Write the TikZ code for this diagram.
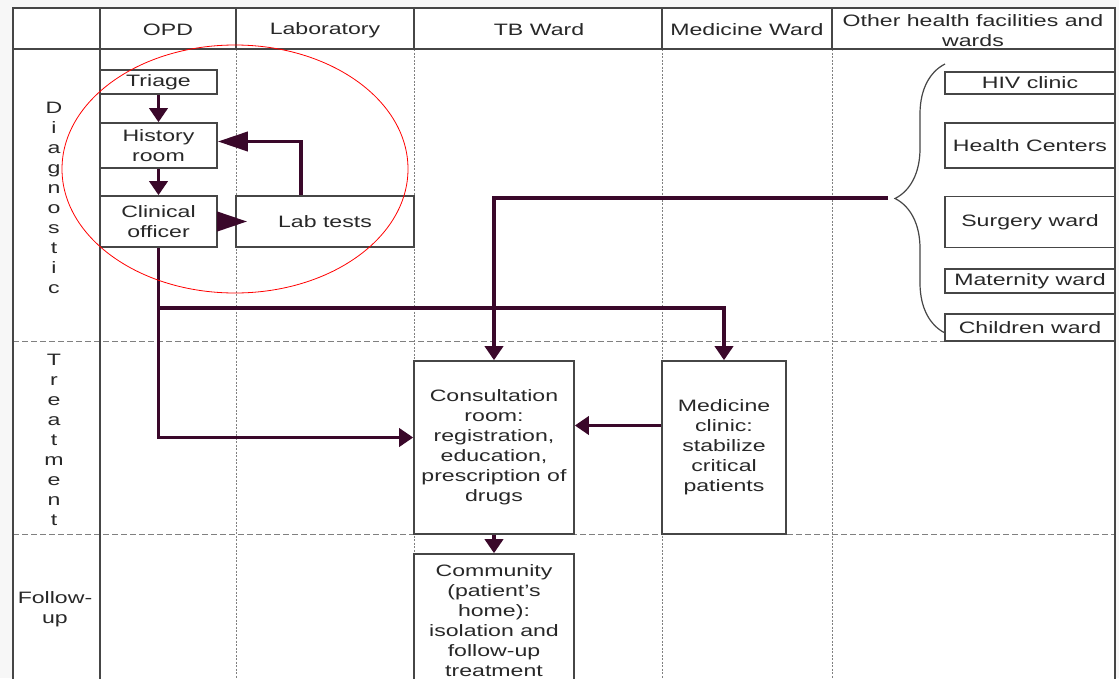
\documentclass[tikz,border=0pt]{standalone}
\usepackage{fontspec}
\setmainfont{Liberation Sans}[FakeStretch=1.4]
\usetikzlibrary{arrows.meta, decorations.pathreplacing}
\definecolor{flowcol}{RGB}{58,8,42}
\definecolor{linegray}{RGB}{70,70,70}
\definecolor{txtgray}{RGB}{40,40,40}

\begin{document}
\begin{tikzpicture}[x=1pt,y=-1pt,
  lbl/.style={text=txtgray, font=\fontsize{16.5}{20}\selectfont, align=center, inner sep=0pt},
  box/.style={lbl, draw=linegray, line width=1.6pt, fill=white},
  flow/.style={draw=flowcol, line width=3.8pt, -{Triangle[length=14pt,width=18pt]}},
  longtip/.style={-{Triangle[length=30pt,width=19pt]}},
  frame/.style={draw=linegray, line width=1.8pt},
  rowsep/.style={draw=gray, line width=0.8pt, dash pattern=on 6pt off 3pt},
  colsep/.style={draw=gray, line width=0.8pt, dash pattern=on 2pt off 1.5pt}]
\useasboundingbox (0,0) rectangle (1119,678);
\clip (0,0) rectangle (1119,678);
\fill[gray!6] (0,0) rectangle (1119,678);
\fill[white] (13,8) rectangle (1115,690);
\foreach \y in {341,534} \draw[rowsep] (13,\y) -- (1115,\y);
\foreach \x in {236,414,662,832} \draw[colsep] (\x,49) -- (\x,690);
\draw[frame] (13,690) -- (13,8) -- (1115,8) -- (1115,690);
\draw[frame] (13,49) -- (1115,49);
\draw[frame] (100,8) -- (100,690);
\foreach \x in {236,414,662,832} \draw[frame] (\x,8) -- (\x,49);

\node[lbl] (hopd) at (168,30) {OPD};
\node[lbl] (hlab) at (325,30) {Laboratory};
\node[lbl] (htb) at (539,30) {TB Ward};
\node[lbl] (hmed) at (747,30) {Medicine Ward};
\node[lbl] (hother) at (973,31) {Other health facilities and\\wards};

\node[lbl] (rdiag) at (54,198) {D\\i\\a\\g\\n\\o\\s\\t\\i\\c};
\node[lbl] (rtreat) at (54,440) {T\\r\\e\\a\\t\\m\\e\\n\\t};
\node[lbl] (rfollow) at (55,609) {Follow-\\up};

\node[box, minimum width=117, minimum height=24] (triage) at (158.5,82) {Triage};
\node[box, minimum width=117, minimum height=45] (hist) at (158.5,145.5) {History\\room};
\node[box, minimum width=117, minimum height=51] (clin) at (158.5,221.5) {Clinical\\officer};
\node[box, minimum width=178, minimum height=51] (lab) at (325,221.5) {Lab tests};
\node[box, minimum width=160, minimum height=173] (consult) at (494,447.5) {Consultation\\room:\\registration,\\education,\\prescription of\\drugs};
\node[box, minimum width=124, minimum height=173] (medclin) at (724,447.5) {Medicine\\clinic:\\stabilize\\critical\\patients};
\node[box, minimum width=160, minimum height=134] (commun) at (494,621) {Community\\(patient's\\home):\\isolation and\\follow-up\\treatment};

\node[box, minimum width=170, minimum height=22] (hiv) at (1030,83) {HIV clinic};
\node[box, minimum width=170, minimum height=45] (hc) at (1030,145.5) {Health Centers};
\node[box, minimum width=170, minimum height=51] (surg) at (1030,222) {Surgery ward};
\node[box, minimum width=170, minimum height=24] (mat) at (1030,281) {Maternity ward};
\node[box, minimum width=170, minimum height=27] (child) at (1030,327.5) {Children ward};

\draw[decorate, decoration={brace, amplitude=50pt}, draw=linegray, line width=1.2pt] (945,333) -- (945,64);
\coordinate (bracetip) at (888,198);
\coordinate (split) at (158.5,308);

\draw[flow] (triage) -- (hist);
\draw[flow] (hist) -- (clin);
\draw[flow, longtip] ([xshift=-24pt]lab.north) |- ([yshift=4pt]hist.east);
\draw[flow, longtip] (clin.east) -- ([xshift=12pt]lab.west);
\draw[flow] (clin.south) |- ([yshift=10pt]consult.west);
\draw[flow] (split) -| (medclin.north);
\draw[flow] (bracetip) -| (consult.north);
\draw[flow] ([yshift=22pt]medclin.west) -- ([yshift=22pt]consult.east);
\draw[flow] (consult.south) -- (commun.north);

\draw[red, line width=0.8pt] (235,169) ellipse [x radius=173, y radius=124];
\end{tikzpicture}
\end{document}
